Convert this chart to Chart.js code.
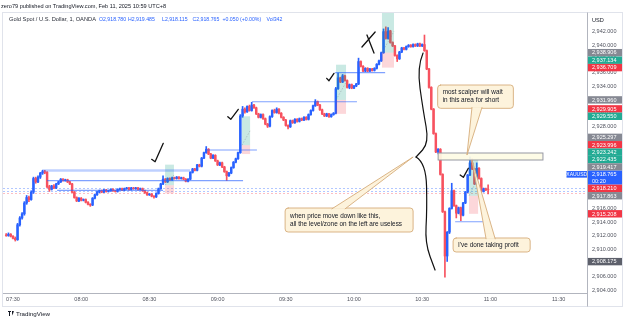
<!DOCTYPE html>
<html><head><meta charset="utf-8">
<script src="https://cdn.jsdelivr.net/npm/chart.js@4.4.1/dist/chart.umd.min.js"></script>
<style>
html,body{margin:0;padding:0;background:#fff;width:625px;height:322px;overflow:hidden;font-family:"Liberation Sans",Arial,sans-serif;}
#wrap{position:relative;width:625px;height:322px;}
canvas{position:absolute;left:0;top:0;}
.t{position:absolute;white-space:nowrap;line-height:7px;font-size:5.7px;color:#131722;}
.v{color:#2962ff;font-size:5.2px;}
</style></head>
<body><div id="wrap">
<canvas id="c" width="625" height="322" style="width:625px;height:322px"></canvas>
<div class="t" style="left:1px;top:2.5px;font-size:5.6px;">zero79 published on TradingView.com, Feb 11, 2025 10:59 UTC+8</div>
<div class="t" style="left:9px;top:15.5px;color:#2a2e39;">Gold Spot / U.S. Dollar, 1, OANDA</div>
<div class="t v" style="left:99px;top:15.5px;">O2,918.780</div>
<div class="t v" style="left:128px;top:15.5px;">H2,919.485</div>
<div class="t v" style="left:162px;top:15.5px;">L2,918.115</div>
<div class="t v" style="left:192.5px;top:15.5px;">C2,918.765</div>
<div class="t v" style="left:222.5px;top:15.5px;">+0.050 (+0.00%)</div>
<div class="t v" style="left:266.5px;top:15.5px;">Vol342</div>
<div style="position:absolute;left:8px;top:310.5px;width:3px;height:1.5px;background:#131722"></div>
<div style="position:absolute;left:9px;top:310.5px;width:1.3px;height:5px;background:#131722"></div>
<div style="position:absolute;left:11.5px;top:310.5px;width:2.5px;height:5px;background:#131722;clip-path:polygon(0 0,100% 0,40% 100%)"></div>
<div class="t" style="left:16px;top:309.5px;font-size:6.2px;">TradingView</div>
</div>
<script>
// ---- axis definitions ----
const tickMinutes = [0,30,60,90,120,150,180,210,240];
const timeLabels = ['07:30','08:00','08:30','09:00','09:30','10:00','10:30','11:00','11:30'];
const priceTicks = [2904,2906,2908,2910,2912,2914,2916,2918,2920,2922,2924,2926,2928,2930,2932,2934,2936,2938,2940,2942];
const firstMinute = -3; // first candle 07:27, minutes relative to 07:30

// ---- 1-minute candles ----
const opens = [
2912.1,2912.0,2912.2,2911.9,2911.6,2911.4,2913.6,2914.6,2915.2,2916.8,
2917.6,2917.3,2918.4,2920.4,2919.9,2920.6,2921.2,2921.4,2921.3,2919.2,
2918.8,2919.3,2919.0,2919.6,2919.9,2920.3,2920.1,2920.2,2919.9,2919.6,
2918.4,2917.6,2917.1,2917.5,2917.2,2917.3,2916.9,2916.6,2916.5,2917.5,
2918.0,2918.4,2918.6,2918.4,2918.7,2918.5,2918.6,2918.8,2918.6,2918.5,
2918.8,2918.9,2918.7,2918.9,2919.0,2918.8,2919.0,2918.9,2919.0,2918.8,
2918.9,2918.6,2918.3,2918.0,2918.1,2917.8,2917.7,2918.2,2918.9,2919.6,
2920.3,2919.9,2920.4,2920.2,2920.5,2920.4,2920.6,2920.4,2920.5,2920.3,
2920.0,2920.3,2921.3,2921.8,2921.6,2922.4,2922.2,2923.4,2924.2,2924.7,
2924.0,2923.4,2923.8,2923.0,2922.4,2922.7,2922.1,2921.4,2920.8,2921.2,
2922.0,2922.8,2923.3,2924.2,2929.6,2930.6,2930.2,2931.0,2930.4,2931.2,
2930.8,2929.9,2929.4,2929.8,2929.2,2928.4,2928.1,2929.5,2930.4,2930.1,
2930.6,2930.0,2929.4,2929.0,2928.2,2928.0,2928.9,2928.6,2929.1,2928.8,
2929.2,2929.0,2929.4,2929.1,2929.8,2930.4,2931.1,2931.7,2931.2,2930.5,
2929.9,2929.6,2929.9,2929.5,2929.8,2930.0,2933.6,2935.2,2934.6,2935.5,
2934.8,2933.8,2934.2,2933.7,2934.0,2934.3,2937.6,2936.9,2936.2,2936.6,
2936.2,2936.5,2936.3,2936.6,2937.2,2937.7,2938.9,2942.0,2941.0,2942.1,
2940.4,2939.9,2938.5,2938.0,2939.0,2939.6,2939.4,2939.8,2940.0,2939.8,
2940.1,2939.9,2940.2,2939.9,2940.1,2939.2,2936.5,2933.8,2930.6,2927.0,
2924.3,2924.7,2921.0,2915.5,2909.0,2912.5,2916.0,2918.6,2916.4,2915.3,
2916.1,2915.0,2916.8,2918.4,2920.9,2922.7,2921.8,2919.6,2921.9,2920.4,
2918.5,2918.9,2918.78];
const highs = [
2912.3,2912.4,2912.3,2912.0,2911.8,2913.8,2914.8,2915.4,2917.0,2917.9,
2917.8,2918.6,2920.6,2920.6,2920.8,2921.3,2921.6,2921.6,2921.4,2919.4,
2919.4,2919.5,2919.7,2920.0,2920.4,2920.4,2920.3,2920.3,2920.0,2919.7,
2918.5,2917.7,2917.6,2917.6,2917.4,2917.4,2917.0,2916.7,2917.6,2918.1,
2918.5,2918.7,2918.7,2918.8,2918.8,2918.7,2918.9,2918.9,2918.7,2918.9,
2919.0,2919.0,2919.0,2919.1,2919.1,2919.1,2919.1,2919.1,2919.1,2919.0,
2919.0,2918.7,2918.4,2918.2,2918.2,2917.9,2918.3,2919.0,2919.7,2920.8,
2920.4,2920.5,2920.5,2920.6,2920.6,2920.7,2920.7,2920.6,2920.6,2920.4,
2920.4,2921.4,2921.9,2921.9,2922.5,2922.5,2923.5,2924.3,2925.1,2924.8,
2924.1,2923.9,2923.9,2923.1,2922.8,2922.8,2922.2,2921.5,2921.3,2922.1,
2922.9,2923.4,2924.3,2929.8,2931.0,2930.8,2931.1,2931.2,2931.6,2931.3,
2930.9,2930.0,2929.9,2929.9,2929.3,2928.5,2929.6,2930.5,2930.6,2930.8,
2930.7,2930.1,2929.5,2929.1,2928.3,2929.0,2929.0,2929.2,2929.2,2929.3,
2929.3,2929.5,2929.5,2929.9,2930.5,2931.2,2932.0,2931.8,2931.3,2930.6,
2930.0,2930.0,2930.0,2929.9,2930.1,2933.8,2935.9,2935.3,2935.7,2935.6,
2934.9,2934.3,2934.3,2934.1,2934.4,2938.1,2937.7,2937.0,2936.7,2936.7,
2936.6,2936.6,2936.7,2937.3,2937.8,2939.0,2942.4,2942.7,2942.6,2942.2,
2940.5,2940.0,2938.6,2939.1,2939.7,2939.7,2939.9,2940.1,2940.1,2940.2,
2940.2,2940.3,2940.3,2940.2,2941.5,2939.3,2936.6,2933.9,2930.7,2927.1,
2924.8,2924.8,2921.1,2915.6,2912.6,2916.1,2919.7,2918.7,2916.5,2916.2,
2916.2,2916.9,2918.5,2921.0,2923.6,2923.3,2921.9,2922.7,2922.0,2920.5,
2919.0,2919.0,2919.485];
const lows = [
2911.9,2911.9,2911.8,2911.5,2911.2,2911.3,2913.4,2914.4,2915.0,2916.6,
2917.0,2917.2,2918.2,2919.7,2919.8,2920.4,2921.0,2921.1,2919.0,2918.5,
2918.7,2918.9,2918.9,2919.5,2919.8,2920.0,2920.0,2919.8,2919.5,2918.3,
2917.5,2917.0,2917.0,2917.1,2917.1,2916.8,2916.5,2916.3,2916.4,2917.4,
2917.9,2918.3,2918.3,2918.3,2918.4,2918.4,2918.5,2918.5,2918.4,2918.4,
2918.7,2918.6,2918.6,2918.8,2918.7,2918.7,2918.8,2918.8,2918.7,2918.7,
2918.5,2918.2,2917.9,2917.9,2917.7,2917.5,2917.6,2918.1,2918.8,2919.5,
2919.8,2919.8,2920.1,2920.1,2920.3,2920.3,2920.3,2920.3,2920.2,2919.9,
2919.9,2920.2,2921.2,2921.5,2921.5,2922.1,2922.1,2923.3,2924.1,2923.9,
2923.3,2923.3,2922.9,2922.3,2922.3,2922.0,2921.3,2920.1,2920.7,2921.1,
2921.9,2922.7,2923.2,2924.1,2929.4,2930.0,2930.1,2930.3,2930.3,2930.7,
2929.8,2929.3,2929.3,2929.1,2928.3,2927.9,2928.0,2929.4,2930.0,2930.0,
2929.9,2929.3,2928.9,2928.1,2927.7,2927.9,2928.5,2928.5,2928.7,2928.7,
2928.9,2928.9,2929.0,2929.0,2929.7,2930.3,2931.0,2931.1,2930.4,2929.8,
2929.5,2929.5,2929.4,2929.4,2929.7,2929.9,2933.5,2934.5,2934.5,2934.7,
2933.7,2933.6,2933.6,2933.6,2933.9,2934.2,2936.8,2936.1,2936.1,2936.1,
2936.1,2936.2,2936.2,2936.5,2937.1,2937.6,2938.8,2940.9,2940.9,2940.3,
2939.8,2938.4,2937.6,2937.9,2938.9,2939.3,2939.3,2939.7,2939.7,2939.7,
2939.8,2939.8,2939.8,2939.8,2939.1,2936.4,2933.7,2930.5,2926.9,2924.2,
2924.0,2920.9,2915.4,2905.9,2908.2,2912.3,2915.9,2916.3,2914.6,2915.2,
2914.2,2914.9,2916.7,2918.3,2920.8,2921.7,2919.5,2919.5,2920.3,2918.4,
2918.4,2918.6,2918.115];
const closes = [
2912.0,2912.2,2911.9,2911.6,2911.4,2913.6,2914.6,2915.2,2916.8,2917.6,
2917.3,2918.4,2920.4,2919.9,2920.6,2921.2,2921.4,2921.3,2919.2,2918.8,
2919.3,2919.0,2919.6,2919.9,2920.3,2920.1,2920.2,2919.9,2919.6,2918.4,
2917.6,2917.1,2917.5,2917.2,2917.3,2916.9,2916.6,2916.5,2917.5,2918.0,
2918.4,2918.6,2918.4,2918.7,2918.5,2918.6,2918.8,2918.6,2918.5,2918.8,
2918.9,2918.7,2918.9,2919.0,2918.8,2919.0,2918.9,2919.0,2918.8,2918.9,
2918.6,2918.3,2918.0,2918.1,2917.8,2917.7,2918.2,2918.9,2919.6,2920.3,
2919.9,2920.4,2920.2,2920.5,2920.4,2920.6,2920.4,2920.5,2920.3,2920.0,
2920.3,2921.3,2921.8,2921.6,2922.4,2922.2,2923.4,2924.2,2924.7,2924.0,
2923.4,2923.8,2923.0,2922.4,2922.7,2922.1,2921.4,2920.8,2921.2,2922.0,
2922.8,2923.3,2924.2,2929.6,2930.6,2930.2,2931.0,2930.4,2931.2,2930.8,
2929.9,2929.4,2929.8,2929.2,2928.4,2928.1,2929.5,2930.4,2930.1,2930.6,
2930.0,2929.4,2929.0,2928.2,2928.0,2928.9,2928.6,2929.1,2928.8,2929.2,
2929.0,2929.4,2929.1,2929.8,2930.4,2931.1,2931.7,2931.2,2930.5,2929.9,
2929.6,2929.9,2929.5,2929.8,2930.0,2933.6,2935.2,2934.6,2935.5,2934.8,
2933.8,2934.2,2933.7,2934.0,2934.3,2937.6,2936.9,2936.2,2936.6,2936.2,
2936.5,2936.3,2936.6,2937.2,2937.7,2938.9,2942.0,2941.0,2942.1,2940.4,
2939.9,2938.5,2938.0,2939.0,2939.6,2939.4,2939.8,2940.0,2939.8,2940.1,
2939.9,2940.2,2939.9,2940.1,2939.2,2936.5,2933.8,2930.6,2927.0,2924.3,
2924.7,2921.0,2915.5,2909.0,2912.5,2916.0,2918.6,2916.4,2915.3,2916.1,
2915.0,2916.8,2918.4,2920.9,2922.7,2921.8,2919.6,2921.9,2920.4,2918.5,
2918.9,2918.715,2918.765];

// ---- drawings (in minutes / price) ----
const levelPrice = [2921.57, 2920.10, 2918.66, 2924.59, 2931.69, 2935.96, 2914.04];
const levelFrom  = [12.8, 15.0, 19.4, 85.3, 105.1, 141.7, 194.5];
const levelTo    = [77.9, 101.2, 66.0, 107.3, 151.3, 163.7, 209.9];

const boxFrom   = [66.9, 100.7, 142.1, 162.3, 200.6];
const boxTo     = [70.8, 104.3, 146.5, 167.6, 204.6];
const boxTarget = [2922.435, 2929.550, 2937.134, 2945.200, 2923.242];
const boxEntry  = [2919.417, 2925.297, 2931.960, 2938.906, 2917.863];
const boxStop   = [2918.210, 2923.996, 2929.905, 2936.709, 2915.208];

const priceLinesBlue = [2918.95, 2918.62];
const priceLinesRed = [2918.21];

const zone = [186.8, 232.9, 2924.15, 2923.12];

const calloutText = [['most scalper will wait','in this area for short'], ["I've done taking profit"], ['when price move down like this,','all the level/zone on the left are useless']];
const calloutBox  = [[186.8,220.1,2934.15,2930.72],[193.6,227.5,2911.65,2909.59],[119.7,176.0,2916.06,2912.53]];
const calloutTip  = [[199.7,2923.85],[201.9,2923.10],[176.0,2923.56]];
const calloutBase = [[201.9,206.3],[208.1,212.1],[140.3,146.1]];

const strokes = [
  [[61.0,2923.22],[62.5,2922.87],[66.1,2925.57]],
  [[94.5,2929.49],[95.8,2929.10],[99.1,2930.57]],
  [[138.0,2935.13],[139.0,2934.78],[141.2,2935.87]],
  [[153.5,2939.74],[159.3,2941.94]],
  [[155.7,2941.50],[158.8,2938.85]],
  [[196.7,2920.91],[198.1,2920.57],[200.3,2921.90]]
];
const braceTop = [[180.38,2938.85],[177.74,2936.79],[180.38,2930.47],[183.02,2925.62],[177.30,2923.56]];
const braceBottom = [[177.30,2923.56],[181.70,2922.68],[182.14,2915.76],[181.26,2910.91],[185.66,2906.94]];

const axisLabelPrices = [2938.906,2937.134,2936.709,2931.960,2929.905,2929.550,2925.297,2923.996,2923.242,2922.435,2919.417,2918.765,2918.210,2917.863,2915.208,2908.175];
const axisLabelKinds  = ['grey','green','red','grey','red','green','grey','red','green','green','grey','last','red','grey','red','dark'];
const countdown = '00:20';

// ---- rendering ----
const FONT = '"Liberation Sans", Arial, sans-serif';
Chart.defaults.font.family = FONT;
const UP = '#2962ff', DN = '#f7525f';
const colors = opens.map((o,i)=> closes[i] >= o ? UP : DN);
const minutes = opens.map((_,i)=> firstMinute + i);
const fmt = v => Number(v).toLocaleString('en-US',{minimumFractionDigits:3, maximumFractionDigits:3});

function rr(ctx,x,y,w,h,r){ctx.beginPath();ctx.moveTo(x+r,y);ctx.arcTo(x+w,y,x+w,y+h,r);ctx.arcTo(x+w,y+h,x,y+h,r);ctx.arcTo(x,y+h,x,y,r);ctx.arcTo(x,y,x+w,y,r);ctx.closePath();}

function smooth(ctx, pts){
  ctx.moveTo(pts[0][0],pts[0][1]);
  for(let i=1;i<pts.length-1;i++){
    const mx=(pts[i][0]+pts[i+1][0])/2, my=(pts[i][1]+pts[i+1][1])/2;
    ctx.quadraticCurveTo(pts[i][0],pts[i][1],mx,my);
  }
  const l=pts[pts.length-1]; ctx.lineTo(l[0],l[1]);
}

const annot = {
  id:'annot',
  beforeDatasetsDraw(chart){
    const {ctx, chartArea:a, scales:{x,y}} = chart;
    ctx.save();
    ctx.beginPath(); ctx.rect(a.left,a.top,a.right-a.left,a.bottom-a.top); ctx.clip();
    ctx.lineWidth = 0.8; ctx.setLineDash([2,2]);
    priceLinesBlue.forEach(p=>{ const yy=Math.round(y.getPixelForValue(p))+0.5; ctx.strokeStyle='rgba(41,98,255,0.45)'; ctx.beginPath(); ctx.moveTo(a.left,yy); ctx.lineTo(a.right,yy); ctx.stroke(); });
    priceLinesRed.forEach(p=>{ const yy=Math.round(y.getPixelForValue(p))+0.5; ctx.strokeStyle='rgba(242,54,69,0.4)'; ctx.beginPath(); ctx.moveTo(a.left,yy); ctx.lineTo(a.right,yy); ctx.stroke(); });
    ctx.setLineDash([]);
    ctx.restore();
  },
  afterDatasetsDraw(chart){
    const {ctx, chartArea:a, scales:{x,y}} = chart;
    const X = v=>x.getPixelForValue(v), Y = v=>y.getPixelForValue(v);
    ctx.save();
    ctx.beginPath(); ctx.rect(a.left,a.top,a.right-a.left,a.bottom-a.top); ctx.clip();
    // long position boxes
    boxFrom.forEach((f,i)=>{
      const x1=X(f), x2=X(boxTo[i]), yt=Y(boxTarget[i]), ye=Y(boxEntry[i]), ys=Y(boxStop[i]);
      ctx.fillStyle='rgba(8,153,129,0.22)'; ctx.fillRect(x1,yt,x2-x1,ye-yt);
      ctx.fillStyle='rgba(242,54,69,0.2)'; ctx.fillRect(x1,ye,x2-x1,ys-ye);
      ctx.strokeStyle='rgba(120,123,134,0.6)'; ctx.lineWidth=0.6; ctx.setLineDash([1.5,1.5]);
      ctx.beginPath(); ctx.moveTo(x1,ye); ctx.lineTo(x2,(ye+yt)/2); ctx.stroke(); ctx.setLineDash([]);
    });
    // level lines
    levelPrice.forEach((p,i)=>{
      const yy=Y(p);
      ctx.strokeStyle = i===0 ? 'rgba(41,98,255,0.3)' : 'rgba(41,98,255,0.6)';
      ctx.lineWidth = i===0 ? 2.6 : 1.2;
      ctx.beginPath(); ctx.moveTo(X(levelFrom[i]),yy); ctx.lineTo(X(levelTo[i]),yy); ctx.stroke();
    });
    // zone
    {
      const x1=X(zone[0]), x2=X(zone[1]), y1=Y(zone[2]), y2=Y(zone[3]);
      ctx.fillStyle='rgba(253,251,228,0.92)'; ctx.fillRect(x1,y1,x2-x1,y2-y1);
      ctx.strokeStyle='#9598a1'; ctx.lineWidth=1; ctx.strokeRect(x1+0.5,y1,x2-x1,y2-y1);
    }
    // freehand strokes
    ctx.strokeStyle='#111'; ctx.lineWidth=1.3; ctx.lineJoin='round'; ctx.lineCap='round';
    strokes.forEach(s=>{ ctx.beginPath(); s.forEach((p,j)=>{ const px=X(p[0]), py=Y(p[1]); j?ctx.lineTo(px,py):ctx.moveTo(px,py); }); ctx.stroke(); });
    ctx.lineWidth=1.2;
    [braceTop, braceBottom].forEach(b=>{ ctx.beginPath(); smooth(ctx, b.map(p=>[X(p[0]),Y(p[1])])); ctx.stroke(); });
    // callouts
    calloutText.forEach((lines,i)=>{
      const b=calloutBox[i];
      const x1=X(b[0]), x2=X(b[1]), y1=Y(b[2]), y2=Y(b[3]);
      const tx=X(calloutTip[i][0]), ty=Y(calloutTip[i][1]);
      const by = ty < y1 ? y1 + 0.8 : y2 - 0.8;
      const b1=X(calloutBase[i][0]), b2=X(calloutBase[i][1]);
      ctx.fillStyle='#fdf3dc'; ctx.strokeStyle='#d6ad7a'; ctx.lineWidth=0.9;
      rr(ctx,x1,y1,x2-x1,y2-y1,3); ctx.fill(); ctx.stroke();
      ctx.beginPath(); ctx.moveTo(b1,by); ctx.lineTo(tx,ty); ctx.lineTo(b2,by); ctx.closePath(); ctx.fill();
      ctx.beginPath(); ctx.moveTo(b1,by); ctx.lineTo(tx,ty); ctx.lineTo(b2,by); ctx.stroke();
      ctx.fillStyle='#131722'; ctx.font='6.4px '+FONT; ctx.textBaseline='middle'; ctx.textAlign='left';
      const cy=(y1+y2)/2, lh=8;
      lines.forEach((t,k)=> ctx.fillText(t, x1+5, cy + (k-(lines.length-1)/2)*lh));
    });
    ctx.restore();
  },
  afterDraw(chart){
    const {ctx, chartArea:a, scales:{y}} = chart;
    ctx.save();
    // frame and axis lines
    ctx.strokeStyle='#e0e3eb'; ctx.lineWidth=1;
    ctx.strokeRect(2.5,12.5,620,294);
    ctx.strokeStyle='#b2b5be';
    ctx.beginPath(); ctx.moveTo(a.left, a.bottom+0.5); ctx.lineTo(a.right, a.bottom+0.5); ctx.stroke();
    ctx.beginPath(); ctx.moveTo(a.right+0.5, 12.5); ctx.lineTo(a.right+0.5, 306.5); ctx.stroke();
    // USD
    ctx.fillStyle='#131722'; ctx.font='5.6px '+FONT; ctx.textBaseline='middle'; ctx.textAlign='left';
    ctx.fillText('USD', a.right+5, 20);
    // price labels with push-up stacking
    const items = axisLabelPrices.map((p,i)=>({p, kind:axisLabelKinds[i], up:3.7, down: axisLabelKinds[i]==='last'?10.3:3.7, ny:y.getPixelForValue(p)}));
    for(let i=items.length-1;i>=0;i--){
      const it=items[i]; it.cy=it.ny;
      if(i<items.length-1){ const nb=items[i+1]; const lim=nb.cy-nb.up-it.down; if(it.cy>lim) it.cy=lim; }
    }
    const col={grey:'#868993', green:'#22ab94', red:'#f23645', last:'#2962ff', dark:'#5d606b'};
    items.forEach(it=>{
      ctx.fillStyle=col[it.kind];
      ctx.fillRect(a.right+1, it.cy-it.up, 622-a.right-1, it.up+it.down);
      ctx.fillStyle='#fff'; ctx.font='5.5px '+FONT;
      ctx.fillText(fmt(it.p), a.right+5, it.cy+0.3);
      if(it.kind==='last'){
        ctx.fillText(countdown, a.right+5, it.cy+6.9);
        // symbol tag
        ctx.fillStyle='#2962ff'; ctx.fillRect(a.right-20.5, it.cy-3.3, 20.5, 6.6);
        ctx.fillStyle='#fff'; ctx.font='5px '+FONT; ctx.textAlign='center';
        ctx.fillText('XAUUSD', a.right-10.25, it.cy+0.3); ctx.textAlign='left';
      }
    });
    ctx.restore();
  }
};

new Chart(document.getElementById('c'), {
  type:'bar',
  data:{datasets:[
    {data: minutes.map((m,i)=>({x:m, y:[lows[i],highs[i]]})), backgroundColor:colors, barThickness:1, grouped:false, order:2},
    {data: minutes.map((m,i)=>({x:m, y:[opens[i],closes[i]]})), backgroundColor:colors, barThickness:1.8, grouped:false, order:1}
  ]},
  options:{
    responsive:false, animation:false, devicePixelRatio:1,
    layout:{padding:{top:13,left:3,right:0,bottom:16}},
    plugins:{legend:{display:false}, tooltip:{enabled:false}},
    scales:{
      x:{type:'linear', min:-4.4, max:252.5, offset:false,
        grid:{display:false, drawTicks:false}, border:{display:false},
        afterBuildTicks:s=>{ s.ticks = tickMinutes.map(v=>({value:v})); },
        afterFit:s=>{ s.height=13; },
        ticks:{autoSkip:false, maxRotation:0, padding:3, color:'#50535e', font:{size:5.5}, callback:(v,i)=>timeLabels[i]}},
      y:{position:'right', min:2903.56, max:2944.74,
        grid:{display:false, drawTicks:false}, border:{display:false},
        afterBuildTicks:s=>{ s.ticks = priceTicks.map(v=>({value:v})); },
        afterFit:s=>{ s.width=38; },
        ticks:{padding:5, color:'#50535e', font:{size:5.5}, callback:v=>fmt(v)}}
    }
  },
  plugins:[annot]
});
</script>
</body></html>
